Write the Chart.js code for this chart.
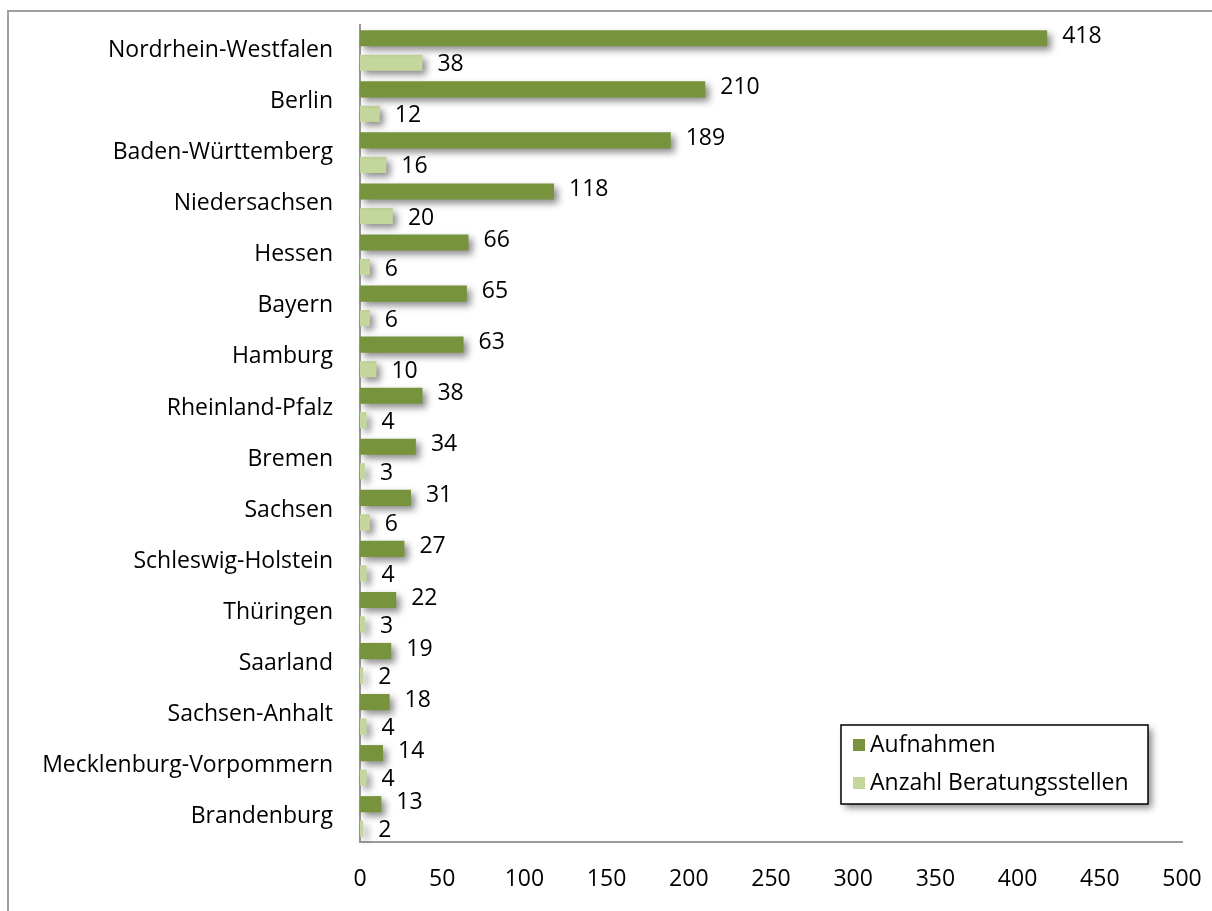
<!DOCTYPE html>
<html>
<head>
<meta charset="utf-8">
<script src="https://cdn.jsdelivr.net/npm/chart.js@4.4.0/dist/chart.umd.min.js"></script>
<style>
  html, body { margin: 0; padding: 0; background: #fff; }
  #wrap { width: 1212px; height: 911px; position: relative; }
</style>
</head>
<body>
<div id="wrap"><canvas id="chart" width="1212" height="911"></canvas></div>
<script>
// Daten
var laender = ["Nordrhein-Westfalen", "Berlin", "Baden-Württemberg", "Niedersachsen", "Hessen", "Bayern",
  "Hamburg", "Rheinland-Pfalz", "Bremen", "Sachsen", "Schleswig-Holstein", "Thüringen", "Saarland",
  "Sachsen-Anhalt", "Mecklenburg-Vorpommern", "Brandenburg"];
var aufnahmen = [418, 210, 189, 118, 66, 65, 63, 38, 34, 31, 27, 22, 19, 18, 14, 13];
var beratungsstellen = [38, 12, 16, 20, 6, 6, 10, 4, 3, 6, 4, 3, 2, 4, 4, 2];
var xTicks = [0, 50, 100, 150, 200, 250, 300, 350, 400, 450, 500];

var FONT = "'Open Sans', Lato, sans-serif";

// Rahmen um das Diagramm
var rahmenPlugin = {
  id: 'rahmen',
  beforeDraw: function (chart) {
    var ctx = chart.ctx;
    ctx.save();
    ctx.strokeStyle = '#a0a0a0';
    ctx.lineWidth = 2;
    ctx.beginPath();
    ctx.moveTo(8, 911);
    ctx.lineTo(8, 11);
    ctx.lineTo(1212, 11);
    ctx.stroke();
    ctx.restore();
  }
};

// Schatten unter den Balken
var schattenPlugin = {
  id: 'schatten',
  beforeDatasetsDraw: function (chart) {
    var ctx = chart.ctx;
    ctx.save();
    ctx.shadowColor = 'rgba(0,0,0,0.45)';
    ctx.shadowBlur = 7;
    ctx.shadowOffsetX = 4;
    ctx.shadowOffsetY = 4;
  },
  afterDatasetsDraw: function (chart) {
    chart.ctx.restore();
  }
};

// Werte neben den Balken
var wertePlugin = {
  id: 'werte',
  afterDatasetsDraw: function (chart) {
    var ctx = chart.ctx;
    ctx.save();
    ctx.font = "23px " + FONT;
    ctx.fillStyle = '#000';
    ctx.textAlign = 'left';
    ctx.textBaseline = 'middle';
    chart.data.datasets.forEach(function (ds, i) {
      var meta = chart.getDatasetMeta(i);
      meta.data.forEach(function (bar, j) {
        var dy = i === 0 ? -2 : 2;
        ctx.fillText(ds.data[j], bar.x + 15, bar.y + dy);
      });
    });
    ctx.restore();
  }
};

// Legende mit Kasten
var legendePlugin = {
  id: 'legende',
  afterDraw: function (chart) {
    var ctx = chart.ctx;
    var x = 841, y = 725, w = 307, h = 79;
    ctx.save();
    ctx.shadowColor = 'rgba(0,0,0,0.45)';
    ctx.shadowBlur = 7;
    ctx.shadowOffsetX = 4;
    ctx.shadowOffsetY = 4;
    ctx.fillStyle = '#fff';
    ctx.fillRect(x, y, w, h);
    ctx.restore();
    ctx.save();
    ctx.strokeStyle = '#000';
    ctx.lineWidth = 1.5;
    ctx.strokeRect(x, y, w, h);
    ctx.font = "23px " + FONT;
    ctx.textBaseline = 'middle';
    chart.data.datasets.forEach(function (ds, i) {
      var cy = y + 20 + i * 38;
      ctx.fillStyle = ds.backgroundColor;
      ctx.fillRect(x + 12, cy - 6, 12, 12);
      ctx.fillStyle = '#000';
      ctx.fillText(ds.label, x + 29, cy);
    });
    ctx.restore();
  }
};

new Chart(document.getElementById('chart'), {
  type: 'bar',
  data: {
    labels: laender,
    datasets: [
      { label: 'Aufnahmen', data: aufnahmen, backgroundColor: '#77933c' },
      { label: 'Anzahl Beratungsstellen', data: beratungsstellen, backgroundColor: '#c3d69b' }
    ]
  },
  options: {
    indexAxis: 'y',
    responsive: false,
    animation: false,
    layout: { padding: { top: 25, right: 30, left: 0, bottom: 0 } },
    datasets: { bar: { categoryPercentage: 0.96, barPercentage: 0.66, clip: false } },
    plugins: { legend: { display: false }, tooltip: { enabled: false } },
    scales: {
      x: {
        min: 0, max: 500,
        afterBuildTicks: function (scale) {
          scale.ticks = xTicks.map(function (v) { return { value: v }; });
        },
        afterFit: function (scale) {
          scale.height = 69;
          scale.paddingLeft = 0;
          scale.paddingRight = 0;
        },
        grid: { display: false, drawTicks: false },
        border: { display: true, color: '#9a9a9a', width: 2 },
        ticks: { padding: 24, color: '#000', font: { family: FONT, size: 23 } }
      },
      y: {
        afterFit: function (scale) {
          scale.width = 360;
          scale.paddingTop = 0;
          scale.paddingBottom = 0;
        },
        grid: { display: false, drawTicks: false },
        border: { display: true, color: '#9a9a9a', width: 2 },
        ticks: { padding: 27, color: '#000', autoSkip: false, font: { family: FONT, size: 23 } }
      }
    }
  },
  plugins: [rahmenPlugin, schattenPlugin, wertePlugin, legendePlugin]
});
</script>
</body>
</html>
